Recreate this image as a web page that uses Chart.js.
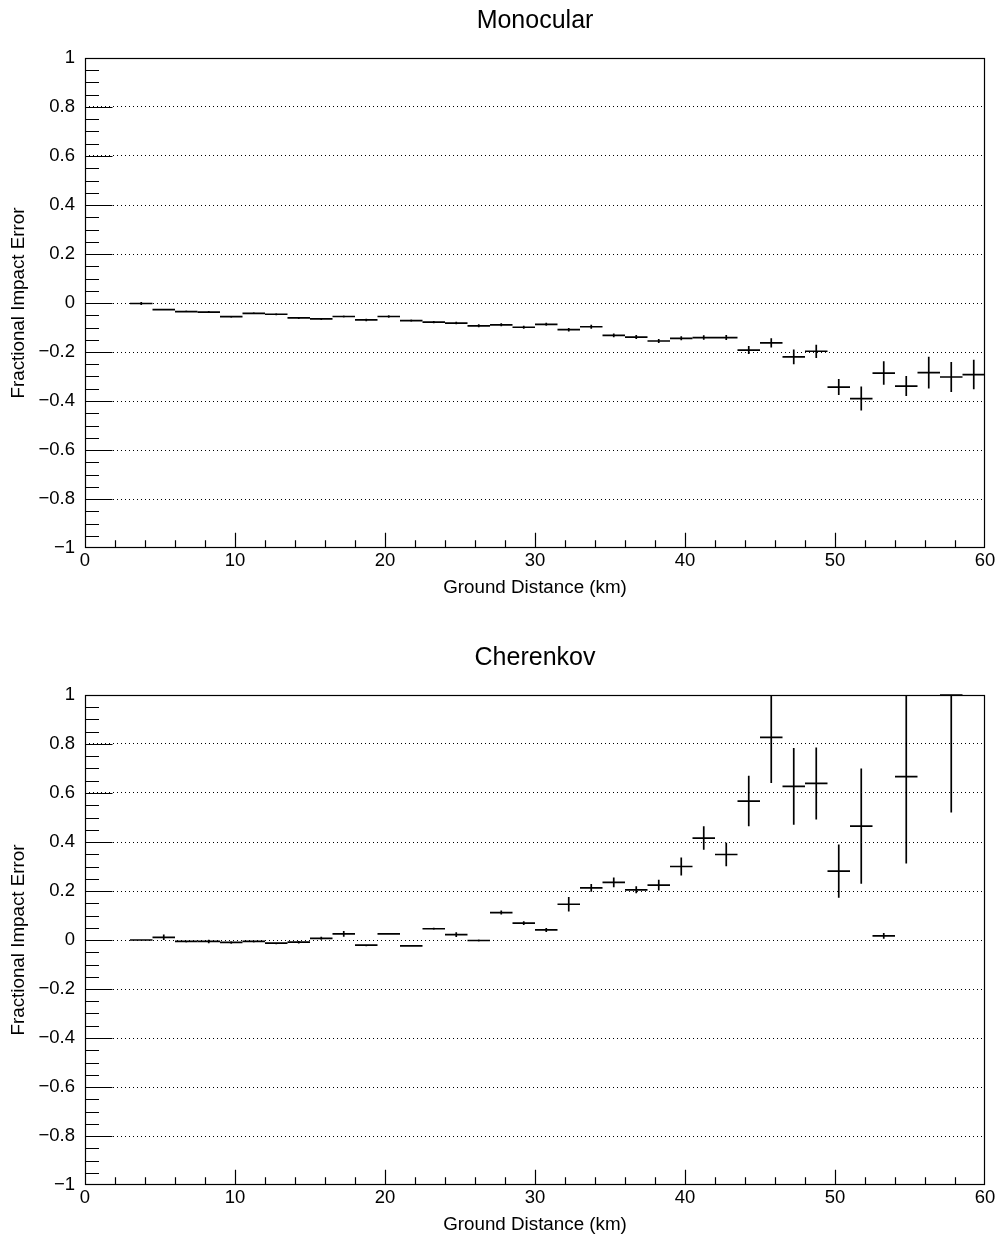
<!DOCTYPE html>
<html>
<head>
<meta charset="utf-8">
<title>Fractional Impact Error vs Ground Distance</title>
<script src="https://cdn.jsdelivr.net/npm/chart.js@4.4.1/dist/chart.umd.min.js"></script>
<style>
  html, body { margin: 0; padding: 0; background: #fff; }
  .pad { position: absolute; left: 0; width: 1001px; height: 606px; }
  #pad-top { top: 0; }
  #pad-bottom { top: 637px; }
</style>
</head>
<body>
<div class="pad" id="pad-top"><canvas id="mono-chart" width="1001" height="606"></canvas></div>
<div class="pad" id="pad-bottom"><canvas id="cher-chart" width="1001" height="606"></canvas></div>
<script>
// bins are 1.5 km wide, from 3 to 60 km
const binCenters = [3.75, 5.25, 6.75, 8.25, 9.75, 11.25, 12.75, 14.25, 15.75, 17.25,
  18.75, 20.25, 21.75, 23.25, 24.75, 26.25, 27.75, 29.25, 30.75, 32.25,
  33.75, 35.25, 36.75, 38.25, 39.75, 41.25, 42.75, 44.25, 45.75, 47.25,
  48.75, 50.25, 51.75, 53.25, 54.75, 56.25, 57.75, 59.25];
const binHalfWidth = 0.75;
const xTicks = [0, 10, 20, 30, 40, 50, 60];
const yTicks = [-1, -0.8, -0.6, -0.4, -0.2, 0, 0.2, 0.4, 0.6, 0.8, 1];

const monoValues = [-0.002, -0.027, -0.035, -0.037, -0.056, -0.042, -0.046, -0.061, -0.065, -0.055,
  -0.069, -0.055, -0.072, -0.078, -0.082, -0.093, -0.089, -0.099, -0.087, -0.109,
  -0.097, -0.132, -0.139, -0.155, -0.144, -0.141, -0.141, -0.192, -0.163, -0.220,
  -0.197, -0.343, -0.390, -0.286, -0.339, -0.284, -0.302, -0.292];
const monoErrors = [0.006, 0.004, 0.004, 0.004, 0.004, 0.004, 0.004, 0.004, 0.004, 0.004,
  0.005, 0.005, 0.005, 0.005, 0.005, 0.006, 0.006, 0.006, 0.006, 0.007,
  0.008, 0.008, 0.008, 0.008, 0.008, 0.009, 0.010, 0.016, 0.019, 0.030,
  0.027, 0.033, 0.049, 0.048, 0.041, 0.065, 0.061, 0.060];

const cherValues = [0.000, 0.011, -0.006, -0.006, -0.010, -0.006, -0.013, -0.009, 0.007, 0.025,
  -0.021, 0.025, -0.024, 0.046, 0.022, -0.002, 0.112, 0.069, 0.041, 0.146,
  0.213, 0.235, 0.205, 0.224, 0.300, 0.416, 0.349, 0.567, 0.827, 0.627,
  0.639, 0.281, 0.465, 0.017, 0.667, null, 1.000, null];
const cherErrors = [0.003, 0.011, 0.004, 0.007, 0.005, 0.004, 0.004, 0.005, 0.006, 0.012,
  0.004, 0.004, 0.004, 0.004, 0.010, 0.004, 0.008, 0.008, 0.008, 0.030,
  0.016, 0.020, 0.014, 0.022, 0.037, 0.048, 0.048, 0.103, 0.186, 0.157,
  0.147, 0.109, 0.235, 0.012, 0.355, null, 0.480, null];

Chart.defaults.font.family = "'Liberation Sans', Arial, Helvetica, sans-serif";
Chart.defaults.color = "#000";

// horizontal bin width + vertical error, like ROOT's "E" option
const errorBarPlugin = {
  id: "errorBars",
  afterDatasetsDraw(chart) {
    const { ctx, chartArea, scales: { x, y } } = chart;
    ctx.save();
    ctx.beginPath();
    ctx.rect(chartArea.left, chartArea.top - 1, chartArea.width, chartArea.height + 2);
    ctx.clip();
    ctx.strokeStyle = "#000";
    ctx.lineWidth = 1.7;
    chart.data.datasets.forEach((ds) => {
      ds.data.forEach((pt, i) => {
        if (pt.y === null) return;
        const err = ds.errors[i];
        const px = x.getPixelForValue(pt.x);
        const py = y.getPixelForValue(pt.y);
        ctx.beginPath();
        ctx.moveTo(x.getPixelForValue(pt.x - binHalfWidth), py);
        ctx.lineTo(x.getPixelForValue(pt.x + binHalfWidth), py);
        ctx.moveTo(px, y.getPixelForValue(Math.max(pt.y - err, y.min)));
        ctx.lineTo(px, y.getPixelForValue(Math.min(pt.y + err, y.max)));
        ctx.stroke();
      });
    });
    ctx.restore();
  },
};

// frame with inward tick marks
const framePlugin = {
  id: "rootFrame",
  afterDraw(chart) {
    const { ctx, chartArea: a, scales: { x, y } } = chart;
    const left = Math.round(a.left) + 0.5;
    const top = Math.round(a.top) + 0.5;
    const right = Math.round(a.right) - 0.5;
    const bottom = Math.round(a.bottom) - 0.5;
    ctx.save();
    ctx.strokeStyle = "#000";
    ctx.lineWidth = 1.2;
    ctx.strokeRect(left, top, right - left, bottom - top);
    ctx.beginPath();
    for (let i = 1; i < 40; i++) {
      const v = y.min + i * 0.05;
      const py = Math.round(y.getPixelForValue(v)) + 0.5;
      const len = i % 4 === 0 ? 27 : 13.5;
      ctx.moveTo(left, py);
      ctx.lineTo(left + len, py);
    }
    for (let i = 1; i < 30; i++) {
      const v = x.min + i * 2;
      const px = Math.round(x.getPixelForValue(v)) + 0.5;
      const len = i % 5 === 0 ? 14.7 : 7.3;
      ctx.moveTo(px, bottom);
      ctx.lineTo(px, bottom - len);
    }
    ctx.stroke();
    ctx.restore();
  },
};

function formatY(v) {
  const r = Math.round(v * 10) / 10;
  return r < 0 ? "\u2212" + String(-r) : String(r);
}

function makePad(canvasId, title, values, errors) {
  return new Chart(document.getElementById(canvasId), {
    type: "scatter",
    data: {
      datasets: [
        {
          label: title,
          data: binCenters.map((c, i) => ({ x: c, y: values[i] })),
          errors: errors,
          pointRadius: 0,
          showLine: false,
        },
      ],
    },
    options: {
      responsive: false,
      animation: false,
      layout: { padding: { left: 0, right: 16, top: 0, bottom: 0 } },
      plugins: {
        legend: { display: false },
        tooltip: { enabled: false },
        title: {
          display: true,
          fullSize: false,
          text: title,
          color: "#000",
          font: { size: 25, weight: "normal" },
          padding: { top: 6, bottom: 22 },
        },
      },
      scales: {
        x: {
          type: "linear",
          min: 0,
          max: 60,
          afterBuildTicks: (s) => { s.ticks = xTicks.map((v) => ({ value: v })); },
          afterFit: (s) => { s.height = 58; },
          grid: { display: false, drawTicks: false },
          border: { display: false },
          ticks: { color: "#000", font: { size: 18.5 }, padding: 2, maxRotation: 0, autoSkip: false },
          title: {
            display: true,
            text: "Ground Distance (km)",
            color: "#000",
            font: { size: 18.8 },
            padding: { top: 0, bottom: 7 },
          },
        },
        y: {
          type: "linear",
          min: -1,
          max: 1,
          afterBuildTicks: (s) => { s.ticks = yTicks.map((v) => ({ value: v })); },
          afterFit: (s) => { s.width = 85; },
          grid: {
            drawTicks: false,
            lineWidth: 1,
            borderDash: [1, 3],
            color: (c) => (c.tick && Math.abs(c.tick.value) < 0.999 ? "#000" : "rgba(0,0,0,0)"),
          },
          border: { display: false, dash: [1, 3] },
          ticks: { color: "#000", font: { size: 18.5 }, padding: 10, callback: formatY },
          title: {
            display: true,
            text: "Fractional Impact Error",
            color: "#000",
            font: { size: 18.8 },
            padding: { top: 8, bottom: 0 },
          },
        },
      },
    },
    plugins: [errorBarPlugin, framePlugin],
  });
}

makePad("mono-chart", "Monocular", monoValues, monoErrors);
makePad("cher-chart", "Cherenkov", cherValues, cherErrors);
</script>
</body>
</html>
